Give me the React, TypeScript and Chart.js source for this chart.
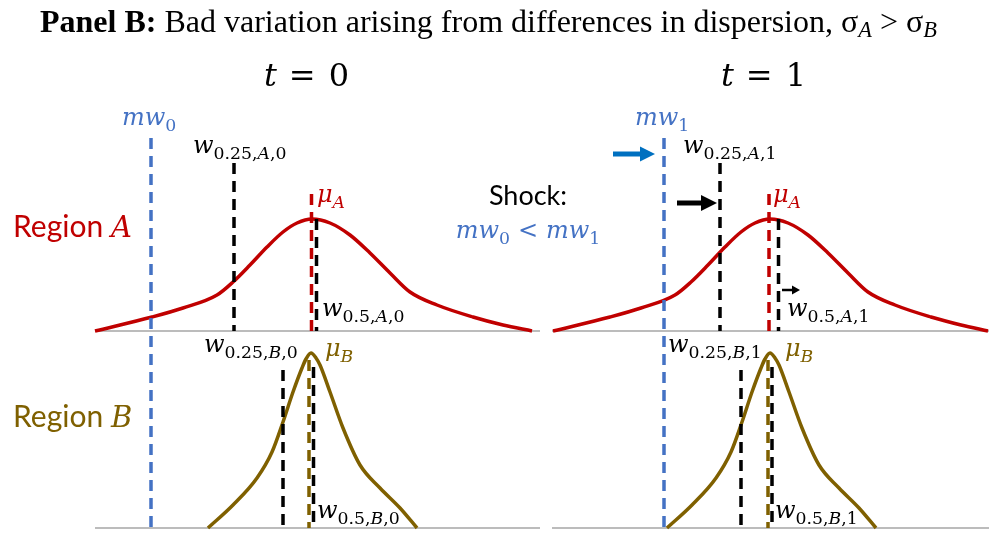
import React, { useEffect, useRef } from "react";
import { Chart, registerables } from "chart.js";
Chart.register(...registerables);

// ---------- data (x: wage position, h: density height) ----------
// Region A density, t = 0 and t = 1
const densA0X = [95, 152, 183, 217, 233, 250, 267, 283, 297, 312, 330, 350, 370, 390, 410, 437, 473, 503, 532];
const densA0H = [0, 14, 23, 36, 49, 66, 84, 99, 108, 112, 108, 96, 78, 58, 39, 26, 14, 6, 0];
const densA1X = [553, 610, 641, 675, 691, 708, 725, 741, 755, 770, 788, 808, 828, 848, 868, 895, 931, 961, 988];
const densA1H = [0, 14, 23, 36, 49, 66, 84, 99, 108, 112, 108, 96, 78, 58, 39, 26, 14, 6, 0];
// Region B density, t = 0 and t = 1
const densB0X = [208, 233, 257, 272, 283, 293, 302, 306, 311, 316, 320, 330, 343, 360, 380, 400, 417];
const densB0H = [0, 23, 50, 76, 106, 136, 160, 169, 175, 170, 163, 136, 100, 63, 40, 20, 0];
const densB1X = [667, 692, 716, 731, 742, 752, 761, 765, 770, 775, 779, 789, 802, 819, 839, 859, 876];
const densB1H = [0, 23, 50, 76, 106, 136, 160, 169, 175, 170, 163, 136, 100, 63, 40, 20, 0];
// axis baselines (x extents) for the two periods
const baseX0 = [95, 540];
const baseX1 = [552, 989];
// vertical markers: [t=0, t=1] positions, and their heights
const mwX = [151, 664];
const mwTop = 390;
const wq25AX = [234, 720];
const wq25ATop = 168;
const muAX = [311.5, 769];
const muATop = 137;
const wq50AX = [316.5, 778.5];
const wq50ATop = 112;
const wq25BX = [283, 741];
const wq25BTop = 158;
const muBX = [309, 768];
const muBTop = 168;
const wq50BX = [313.5, 772];
const wq50BTop = 161;
// shift arrows: start x, end x, height (region A density units)
const arrowX1 = [613, 677, 782];
const arrowX2 = [655, 717, 800];
const arrowH = [177, 128, 41];

const RED = "#C00000";
const GOLD = "#7F6000";
const BLUE = "#4472C4";
const ARROW_BLUE = "#0070C0";
const GRAY = "#A6A6A6";

type P = { t?: string; f?: "m" | "t" | "s"; st?: "i" | "r" | "b"; sub?: boolean; gap?: number; sz?: number };
type L = { x: number; y: number; size: number; color: string; align?: "left" | "center"; subScale?: number; subDrop?: number; parts: P[] };

const FAM: Record<string, string> = { m: '"DejaVu Serif"', t: '"Liberation Serif"', s: "Lato" };

const wLab = (q: string, reg: string, t: string): P[] => [
  { t: "w", st: "i" },
  { t: q + ",", sub: true },
  { t: reg, st: "i", sub: true },
  { t: "," + t, sub: true },
];
const muLab = (reg: string): P[] => [{ t: "μ", st: "i" }, { t: reg, st: "i", sub: true }];
const mwLab = (t: string): P[] => [{ t: "mw", st: "i" }, { t, sub: true }];

const labels: L[] = [
  {
    x: 40, y: 32, size: 32, color: "#000", subScale: 0.7, subDrop: 5,
    parts: [
      { t: "Panel B:", f: "t", st: "b" },
      { t: " Bad variation arising from differences in dispersion, ", f: "t" },
      { t: "σ", f: "t" },
      { t: "A", f: "t", st: "i", sub: true },
      { t: " > ", f: "t" },
      { t: "σ", f: "t" },
      { t: "B", f: "t", st: "i", sub: true },
    ],
  },
  { x: 264, y: 86, size: 32, color: "#000", parts: [{ t: "t", st: "i" }, { gap: 12 }, { t: "=" }, { gap: 13 }, { t: "0" }] },
  { x: 721, y: 86, size: 32, color: "#000", parts: [{ t: "t", st: "i" }, { gap: 12 }, { t: "=" }, { gap: 13 }, { t: "1" }] },
  { x: 122, y: 125, size: 24, color: BLUE, parts: mwLab("0") },
  { x: 635, y: 125, size: 24, color: BLUE, parts: mwLab("1") },
  { x: 193, y: 153, size: 24, color: "#000", parts: wLab("0.25", "A", "0") },
  { x: 683, y: 153, size: 24, color: "#000", parts: wLab("0.25", "A", "1") },
  { x: 317, y: 202, size: 24, color: RED, parts: muLab("A") },
  { x: 773, y: 202, size: 24, color: RED, parts: muLab("A") },
  { x: 322, y: 316, size: 24, color: "#000", parts: wLab("0.5", "A", "0") },
  { x: 787, y: 316, size: 24, color: "#000", parts: wLab("0.5", "A", "1") },
  { x: 204, y: 352, size: 24, color: "#000", parts: wLab("0.25", "B", "0") },
  { x: 668, y: 352, size: 24, color: "#000", parts: wLab("0.25", "B", "1") },
  { x: 325, y: 356, size: 24, color: GOLD, parts: muLab("B") },
  { x: 785, y: 356, size: 24, color: GOLD, parts: muLab("B") },
  { x: 317, y: 518, size: 24, color: "#000", parts: wLab("0.5", "B", "0") },
  { x: 775, y: 518, size: 24, color: "#000", parts: wLab("0.5", "B", "1") },
  { x: 13, y: 237, size: 30, color: RED, parts: [{ t: "Region ", f: "s" }, { t: "A", st: "i", sz: 29 }] },
  { x: 13, y: 427, size: 30, color: GOLD, parts: [{ t: "Region ", f: "s" }, { t: "B", st: "i", sz: 29 }] },
  { x: 528, y: 205, size: 27, color: "#000", align: "center", parts: [{ t: "Shock:", f: "s" }] },
  {
    x: 528, y: 238, size: 24, color: BLUE, align: "center",
    parts: [...mwLab("0"), { gap: 8 }, { t: "<" }, { gap: 8 }, ...mwLab("1")],
  },
];

function fontOf(p: P, l: L) {
  const base = p.sz ?? l.size;
  const s = p.sub ? base * (l.subScale ?? 0.72) : base;
  const st = p.st === "i" ? "italic " : p.st === "b" ? "bold " : "";
  return `${st}${s}px ${FAM[p.f ?? "m"]}`;
}

const textPlugin = {
  id: "richText",
  afterDraw(chart: any) {
    const ctx = chart.ctx as CanvasRenderingContext2D;
    ctx.save();
    ctx.textBaseline = "alphabetic";
    ctx.textAlign = "left";
    for (const l of labels) {
      let w = 0;
      for (const p of l.parts) {
        if (p.gap) { w += p.gap; continue; }
        ctx.font = fontOf(p, l);
        w += ctx.measureText(p.t!).width;
      }
      let x = l.align === "center" ? l.x - w / 2 : l.x;
      ctx.fillStyle = l.color;
      for (const p of l.parts) {
        if (p.gap) { x += p.gap; continue; }
        ctx.font = fontOf(p, l);
        const dy = p.sub ? (l.subDrop ?? l.size * 0.24) : 0;
        ctx.fillText(p.t!, x, l.y + dy);
        x += ctx.measureText(p.t!).width;
      }
    }
    ctx.restore();
  },
};

const arrowPlugin = {
  id: "arrows",
  afterDatasetsDraw(chart: any) {
    const ctx = chart.ctx as CanvasRenderingContext2D;
    const xs = chart.scales.x;
    const ys = chart.scales.yA;
    const styles = [
      { c: ARROW_BLUE, lw: 5, hl: 15, hw: 15 },
      { c: "#000", lw: 5, hl: 16, hw: 16 },
      { c: "#000", lw: 2.5, hl: 8, hw: 9 },
    ];
    ctx.save();
    arrowX1.forEach((x1v, i) => {
      const s = styles[i];
      const x1 = xs.getPixelForValue(x1v);
      const x2 = xs.getPixelForValue(arrowX2[i]);
      const y = ys.getPixelForValue(arrowH[i]);
      ctx.strokeStyle = s.c;
      ctx.fillStyle = s.c;
      ctx.lineWidth = s.lw;
      ctx.beginPath();
      ctx.moveTo(x1, y);
      ctx.lineTo(x2 - s.hl + 1, y);
      ctx.stroke();
      ctx.beginPath();
      ctx.moveTo(x2, y);
      ctx.lineTo(x2 - s.hl, y - s.hw / 2);
      ctx.lineTo(x2 - s.hl, y + s.hw / 2);
      ctx.closePath();
      ctx.fill();
    });
    ctx.restore();
  },
};

export default function App() {
  const ref = useRef<HTMLCanvasElement>(null);
  useEffect(() => {
    const curve = (xs: number[], hs: number[], axis: string, color: string) => ({
      data: xs.map((x, i) => ({ x, y: hs[i] })),
      yAxisID: axis,
      borderColor: color,
      borderWidth: 3.5,
      pointRadius: 0,
      fill: false,
      cubicInterpolationMode: "monotone",
      order: 5,
    });
    const straight = (xs: number[], hs: number[], axis: string, color: string, width: number, dash: number[], order: number) => ({
      data: xs.map((x, i) => ({ x, y: hs[i] })),
      yAxisID: axis,
      borderColor: color,
      borderWidth: width,
      borderDash: dash,
      borderCapStyle: "butt",
      pointRadius: 0,
      fill: false,
      tension: 0,
      order,
    });
    const D = [11, 7];
    const datasets: any[] = [
      straight(baseX0, [0, 0], "yA", GRAY, 1.5, [], 9),
      straight(baseX1, [0, 0], "yA", GRAY, 1.5, [], 9),
      straight(baseX0, [0, 0], "yB", GRAY, 1.5, [], 9),
      straight(baseX1, [0, 0], "yB", GRAY, 1.5, [], 9),
      curve(densA0X, densA0H, "yA", RED),
      curve(densA1X, densA1H, "yA", RED),
      curve(densB0X, densB0H, "yB", GOLD),
      curve(densB1X, densB1H, "yB", GOLD),
    ];
    for (let k = 0; k < 2; k++) {
      datasets.push(straight([mwX[k], mwX[k]], [mwTop, 0], "yB", BLUE, 3.5, D, 1));
      datasets.push(straight([wq25AX[k], wq25AX[k]], [wq25ATop, 0], "yA", "#000", 3.5, D, 1));
      datasets.push(straight([muAX[k], muAX[k]], [muATop, 0], "yA", RED, 3.5, D, 2));
      datasets.push(straight([wq50AX[k], wq50AX[k]], [wq50ATop, 0], "yA", "#000", 3.5, D, 1));
      datasets.push(straight([wq25BX[k], wq25BX[k]], [wq25BTop, 0], "yB", "#000", 3.5, D, 1));
      datasets.push(straight([muBX[k], muBX[k]], [muBTop, 0], "yB", GOLD, 3.5, D, 2));
      datasets.push(straight([wq50BX[k], wq50BX[k]], [wq50BTop, 0], "yB", "#000", 3.5, D, 1));
    }
    const chart = new Chart(ref.current!, {
      type: "line",
      data: { datasets },
      options: {
        animation: false,
        responsive: false,
        devicePixelRatio: 1,
        layout: { padding: 0 },
        events: [],
        plugins: { legend: { display: false }, tooltip: { enabled: false } },
        scales: {
          x: { type: "linear", min: 0, max: 989, display: false },
          yA: { type: "linear", min: -203, max: 331, display: false },
          yB: { type: "linear", min: -6, max: 528, display: false },
        },
      },
      plugins: [arrowPlugin, textPlugin],
    } as any);
    return () => chart.destroy();
  }, []);
  return (
    <div style={{ position: "absolute", left: 0, top: 0, width: 989, height: 534, background: "#fff" }}>
      <canvas ref={ref} width={989} height={534} style={{ display: "block" }} />
    </div>
  );
}
